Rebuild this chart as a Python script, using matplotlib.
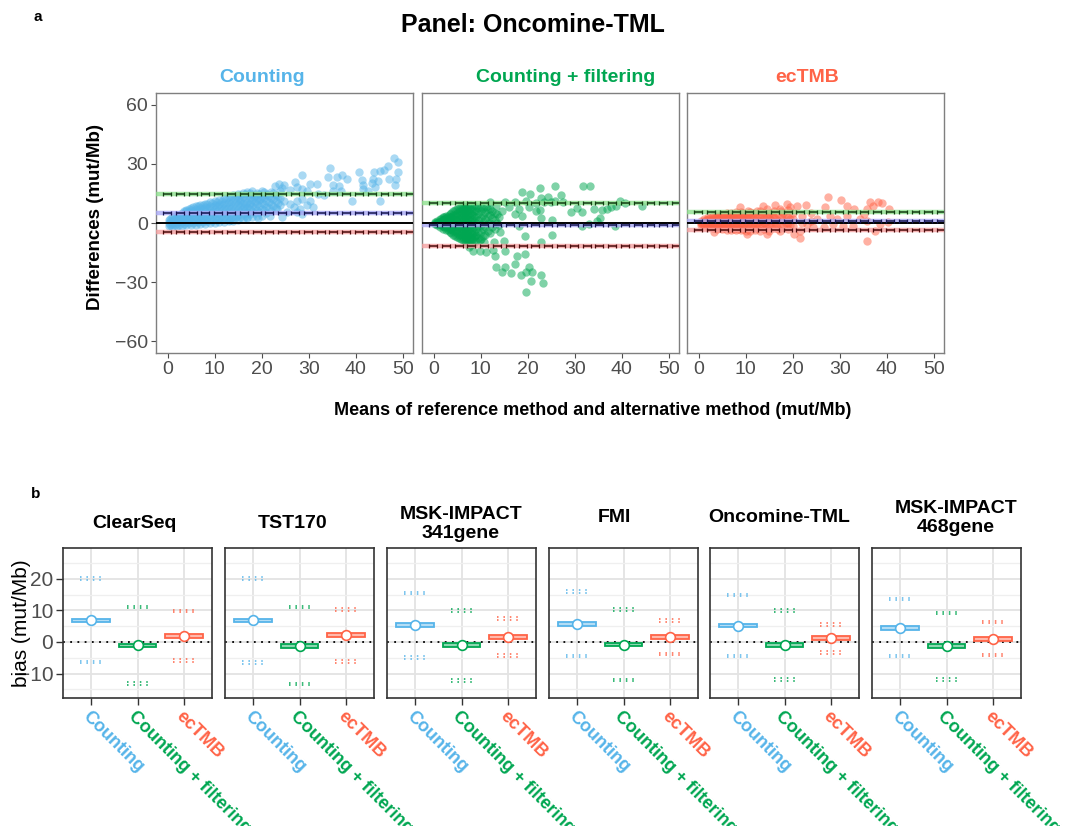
import numpy as np
import matplotlib
matplotlib.use("Agg")
import matplotlib.pyplot as plt
from matplotlib.colors import to_rgb

plt.rcParams['font.family'] = ['Liberation Sans', 'DejaVu Sans']

# ---------------- data ----------------
methods = ["Counting", "Counting + filtering", "ecTMB"]
method_colors = ["#56B4E9", "#00A651", "#FF6347"]

# panel b: bias and limits of agreement per gene panel
b_panels = ["ClearSeq", "TST170", "MSK-IMPACT\n341gene", "FMI", "Oncomine-TML", "MSK-IMPACT\n468gene"]
bias_counting = [6.8, 6.8, 5.3, 5.7, 5.2, 4.5]
upper_counting = [20.0, 20.0, 15.5, 16.0, 14.9, 13.6]
lower_counting = [-6.3, -6.5, -4.9, -4.4, -4.5, -4.5]
bias_cf = [-1.1, -1.3, -1.05, -0.8, -0.95, -1.3]
upper_cf = [11.0, 11.0, 10.0, 10.2, 10.0, 9.2]
lower_cf = [-13.2, -13.3, -12.1, -12.0, -11.9, -11.9]
bias_ec = [2.0, 2.1, 1.5, 1.5, 1.2, 1.05]
upper_ec = [9.8, 10.2, 7.4, 6.8, 5.5, 6.3]
lower_ec = [-5.9, -6.2, -4.2, -3.8, -3.4, -4.1]

# panel a (Oncomine-TML): Bland-Altman points (mean, difference)
counting_pts = [
    (48.2, 33.1), (49.1, 31.1), (46.9, 28.7), (46.0, 27.0), (45.2, 26.3), (43.9, 25.8), (49.1, 25.7),
    (40.8, 25.7), (34.6, 28.0), (28.6, 24.5), (34.2, 23.6), (37.2, 24.4), (36.1, 23.3), (38.1, 22.3),
    (41.4, 21.9), (43.6, 22.4), (44.8, 21.3), (41.6, 19.4), (43.4, 20.2), (48.6, 22.4), (48.4, 19.3),
    (47.0, 22.2), (31.7, 19.9), (35.2, 19.4), (36.5, 18.9), (23.6, 19.9), (22.9, 19.0), (24.7, 19.5),
    (24.3, 17.8), (27.1, 20.8), (27.5, 18.2), (26.1, 16.8), (28.6, 17.4), (29.6, 16.5), (35.2, 16.5),
    (36.9, 16.0), (32.1, 14.5), (33.2, 14.0), (41.6, 17.4), (42.7, 16.5), (44.1, 18.2), (39.2, 11.4),
    (45.2, 11.4), (30.3, 11.4), (29.6, 8.9), (28.6, 12.3), (27.5, 11.1), (28.2, 7.2), (27.5, 5.6),
    (28.6, 4.4), (26.8, 8.0), (21.8, 3.8), (19.3, 2.6), (24.3, 3.0), (25.4, 5.6), (23.2, 7.2),
    (26.1, 9.7), (24.7, 11.4), (21.1, 14.8), (19.7, 12.3), (17.6, 9.7), (18.3, 13.1), (15.4, 11.4),
    (16.2, 8.0), (16.9, 5.6), (14.7, 3.4), (13.3, 1.3), (31.0, 8.0), (16.9, 3.0), (30.3, 19.6),
    # dense band
    (0.3, -1.5), (0.3, 0.0), (0.3, 1.5),
    (1.0, -1.8), (1.0, -0.3), (1.0, 1.3), (1.0, 2.8),
    (2.0, -1.6), (2.0, 0.0), (2.0, 1.6), (2.0, 3.2), (2.0, 4.3),
    (3.0, -1.4), (3.0, 0.3), (3.0, 2.0), (3.0, 3.7), (3.0, 5.2),
    (4.0, -1.2), (4.0, 0.6), (4.0, 2.4), (4.0, 4.2), (4.0, 6.0), (4.0, 6.8),
    (5.0, -1.0), (5.0, 1.0), (5.0, 3.0), (5.0, 5.0), (5.0, 6.6), (5.0, 7.8),
    (6.0, -0.8), (6.0, 1.2), (6.0, 3.2), (6.0, 5.2), (6.0, 7.2), (6.0, 8.5),
    (7.0, -0.6), (7.0, 1.4), (7.0, 3.4), (7.0, 5.6), (7.0, 7.6), (7.0, 9.2),
    (8.0, -0.4), (8.0, 1.6), (8.0, 3.8), (8.0, 6.0), (8.0, 8.2), (8.0, 9.8),
    (9.0, -0.2), (9.0, 2.0), (9.0, 4.2), (9.0, 6.4), (9.0, 8.6), (9.0, 10.5),
    (10.0, 0.0), (10.0, 2.3), (10.0, 4.6), (10.0, 6.9), (10.0, 9.2), (10.0, 11.2),
    (11.0, 0.3), (11.0, 2.6), (11.0, 5.0), (11.0, 7.4), (11.0, 9.8), (11.0, 11.9),
    (12.0, 0.6), (12.0, 3.0), (12.0, 5.4), (12.0, 7.8), (12.0, 10.2), (12.0, 12.6),
    (13.0, 0.9), (13.0, 3.4), (13.0, 5.9), (13.0, 8.4), (13.0, 10.9), (13.0, 13.3),
    (14.0, 1.2), (14.0, 3.8), (14.0, 6.4), (14.0, 9.0), (14.0, 11.6), (14.0, 14.0),
    (15.0, 1.5), (15.0, 4.2), (15.0, 6.9), (15.0, 9.6), (15.0, 12.3), (15.0, 14.8),
    (16.0, 2.0), (16.0, 4.8), (16.0, 7.5), (16.0, 10.2), (16.0, 13.0), (16.0, 15.3),
    (17.0, 2.4), (17.0, 5.2), (17.0, 8.0), (17.0, 10.8), (17.0, 13.6), (17.0, 15.8),
    (18.0, 3.0), (18.0, 6.0), (18.0, 8.8), (18.0, 11.5), (18.0, 14.2), (18.0, 16.3),
    (19.0, 3.5), (19.0, 6.6), (19.0, 9.5), (19.0, 12.3), (19.0, 15.0),
    (20.0, 3.5), (20.0, 7.0), (20.0, 10.0), (20.0, 13.0), (20.0, 16.5),
    (21.0, 5.0), (21.0, 8.0), (21.0, 11.0), (21.0, 14.0),
    (22.0, 6.0), (22.0, 9.5), (22.0, 12.5), (22.0, 15.5),
    (23.0, 7.5), (23.0, 11.0), (23.0, 14.0),
    (24.0, 9.0), (24.0, 12.5), (24.0, 16.0),
    (0.6, -0.8), (0.6, 0.8), (0.6, 2.2),
    (1.5, -1.0), (1.5, 0.6), (1.5, 2.2), (1.5, 3.6),
    (2.5, -0.8), (2.5, 0.8), (2.5, 2.6), (2.5, 4.2),
    (3.5, -0.4), (3.5, 1.4), (3.5, 3.0), (3.5, 4.8), (3.5, 6.0),
    (4.5, -0.1), (4.5, 1.8), (4.5, 3.8), (4.5, 5.6), (4.5, 7.2),
    (5.5, 0.2), (5.5, 2.2), (5.5, 4.2), (5.5, 6.2), (5.5, 8.0),
    (6.5, 0.4), (6.5, 2.4), (6.5, 4.4), (6.5, 6.6), (6.5, 8.6),
    (7.5, 0.5), (7.5, 2.6), (7.5, 4.8), (7.5, 7.0), (7.5, 9.0),
    (8.5, 0.8), (8.5, 3.0), (8.5, 5.2), (8.5, 7.4), (8.5, 9.6),
    (9.5, 1.0), (9.5, 3.4), (9.5, 5.8), (9.5, 8.0), (9.5, 10.4),
    (10.5, 1.4), (10.5, 3.6), (10.5, 6.0), (10.5, 8.4), (10.5, 10.8),
    (11.5, 1.8), (11.5, 4.2), (11.5, 6.6), (11.5, 9.0), (11.5, 11.4),
    (12.5, 2.0), (12.5, 4.6), (12.5, 7.0), (12.5, 9.6), (12.5, 12.0),
    (13.5, 2.4), (13.5, 5.0), (13.5, 7.6), (13.5, 10.2), (13.5, 12.8),
    (14.5, 2.8), (14.5, 5.4), (14.5, 8.2), (14.5, 10.8), (14.5, 13.4),
    (15.5, 3.2), (15.5, 6.0), (15.5, 8.8), (15.5, 11.6), (15.5, 14.2),
    (16.5, 3.8), (16.5, 6.6), (16.5, 9.4), (16.5, 12.2), (16.5, 14.8),
    (17.5, 4.4), (17.5, 7.2), (17.5, 10.0), (17.5, 12.8), (17.5, 15.2),
    (18.5, 5.0), (18.5, 8.0), (18.5, 10.8), (18.5, 13.6),
    (19.5, 5.5), (19.5, 8.6), (19.5, 11.6), (19.5, 14.5),
    (20.5, 6.5), (20.5, 9.5), (20.5, 12.5), (20.5, 15.5),
    (21.5, 7.5), (21.5, 10.5), (21.5, 13.5),
    (22.5, 8.5), (22.5, 12.0), (22.5, 15.0),
    (23.5, 10.0), (23.5, 13.5),
]

cf_pts = [
    (25.8, 18.8), (31.7, 18.8), (33.2, 18.8), (22.7, 18.0), (18.8, 15.6), (20.6, 14.7), (27.1, 14.2),
    (24.4, 13.0), (22.9, 12.5), (25.9, 11.4), (15.2, 10.8), (17.4, 10.5), (19.6, 11.4), (21.7, 10.2),
    (23.5, 10.5), (24.9, 10.8), (27.6, 10.5), (29.3, 5.4), (30.6, 7.6), (31.6, 5.8), (34.1, 7.1),
    (35.8, 6.6), (36.9, 7.1), (37.8, 8.0), (38.7, 8.8), (39.7, 11.4), (40.7, 10.0), (44.3, 8.8),
    (35.4, 2.5), (34.8, 1.2), (31.6, -1.7), (33.0, -0.5), (38.5, -1.7), (22.7, 6.8), (22.9, 2.5),
    (25.1, 1.7), (21.7, 6.3), (20.3, 8.0), (18.1, 7.1), (18.8, 3.7), (17.4, 4.6), (16.0, 8.0),
    (14.6, 6.3), (13.2, 8.8), (12.1, 10.5), (11.1, 8.0),
    (19.6, -35.2), (23.2, -30.7), (20.8, -29.3), (22.8, -26.4), (20.9, -25.1), (20.3, -22.5),
    (19.6, -25.1), (18.5, -26.3), (16.4, -25.6), (14.5, -24.7), (15.3, -22.5), (13.2, -22.5),
    (17.4, -20.9), (17.8, -16.6), (19.4, -15.8), (15.3, -14.4), (13.0, -17.0), (12.6, -13.6),
    (11.1, -14.9), (9.9, -14.1), (10.7, -9.8), (9.8, -8.7), (8.9, -6.4), (7.9, -7.3), (8.4, -14.1),
    (7.5, -12.4), (12.8, -9.8), (14.9, -9.0), (19.4, -6.4), (22.8, -9.5), (25.2, -6.0), (14.2, -4.4),
    (18.1, -1.7),
    # dense wedge
    (0.3, -0.4), (0.3, 0.0), (0.3, 0.4),
    (0.8, -1.0), (0.8, 0.0), (0.8, 1.0),
    (1.3, -1.8), (1.3, -0.6), (1.3, 0.6), (1.3, 1.8),
    (2.0, -2.8), (2.0, -1.4), (2.0, 0.0), (2.0, 1.4), (2.0, 2.8),
    (2.7, -3.8), (2.7, -2.0), (2.7, -0.5), (2.7, 1.0), (2.7, 2.5), (2.7, 3.8),
    (3.4, -4.8), (3.4, -3.0), (3.4, -1.0), (3.4, 1.0), (3.4, 3.0), (3.4, 4.8),
    (4.2, -6.0), (4.2, -4.0), (4.2, -2.0), (4.2, 0.0), (4.2, 2.0), (4.2, 4.0), (4.2, 6.0),
    (5.0, -7.0), (5.0, -5.0), (5.0, -3.0), (5.0, -1.0), (5.0, 1.0), (5.0, 3.0), (5.0, 5.0), (5.0, 7.0),
    (5.8, -8.0), (5.8, -6.0), (5.8, -4.0), (5.8, -2.0), (5.8, 0.0), (5.8, 2.0), (5.8, 4.0), (5.8, 6.0),
    (5.8, 8.0),
    (6.6, -9.0), (6.6, -7.0), (6.6, -5.0), (6.6, -3.0), (6.6, -1.0), (6.6, 1.0), (6.6, 3.0), (6.6, 5.0),
    (6.6, 7.0), (6.6, 8.5),
    (7.4, -10.0), (7.4, -8.0), (7.4, -6.0), (7.4, -4.0), (7.4, -2.0), (7.4, 0.0), (7.4, 2.0), (7.4, 4.0),
    (7.4, 6.0), (7.4, 8.0),
    (8.2, -10.5), (8.2, -8.0), (8.2, -5.5), (8.2, -3.0), (8.2, -0.5), (8.2, 2.0), (8.2, 4.5), (8.2, 7.0),
    (9.0, -9.0), (9.0, -6.0), (9.0, -3.0), (9.0, 0.0), (9.0, 3.0), (9.0, 6.0), (9.0, 8.5),
    (10.0, -8.0), (10.0, -4.5), (10.0, -1.0), (10.0, 2.5), (10.0, 6.0), (10.0, 8.0),
    (11.0, -6.0), (11.0, -2.0), (11.0, 2.0), (11.0, 5.5),
    (12.0, -5.0), (12.0, 0.0), (12.0, 4.0), (12.0, 7.0),
    (13.0, -3.0), (13.0, 1.5), (13.0, 5.0),
    (14.0, -1.0), (14.0, 3.0),
    (1.0, -0.5), (1.0, 0.5),
    (1.6, -1.2), (1.6, 0.0), (1.6, 1.2), (1.6, 2.2),
    (2.3, -2.2), (2.3, -0.7), (2.3, 0.7), (2.3, 2.2), (2.3, 3.2),
    (3.0, -3.4), (3.0, -1.5), (3.0, 0.0), (3.0, 1.5), (3.0, 3.4),
    (3.8, -5.2), (3.8, -3.0), (3.8, -1.0), (3.8, 1.0), (3.8, 3.0), (3.8, 5.2),
    (4.6, -6.4), (4.6, -4.0), (4.6, -2.0), (4.6, 0.0), (4.6, 2.0), (4.6, 4.0), (4.6, 6.4),
    (5.4, -7.5), (5.4, -6.0), (5.4, -4.0), (5.4, -2.0), (5.4, 0.0), (5.4, 2.0), (5.4, 4.0), (5.4, 6.0),
    (5.4, 7.5),
    (6.2, -8.5), (6.2, -7.0), (6.2, -5.0), (6.2, -3.0), (6.2, -1.0), (6.2, 1.0), (6.2, 3.0), (6.2, 5.0),
    (6.2, 7.0), (6.2, 8.5),
    (7.0, -9.5), (7.0, -8.0), (7.0, -6.0), (7.0, -4.0), (7.0, -2.0), (7.0, 0.0), (7.0, 2.0), (7.0, 4.0),
    (7.0, 6.0), (7.0, 8.0),
    (7.8, -11.0), (7.8, -9.0), (7.8, -7.0), (7.8, -5.0), (7.8, -3.0), (7.8, -1.0), (7.8, 1.0), (7.8, 3.0),
    (7.8, 5.0), (7.8, 7.0), (7.8, 9.0),
    (8.6, -10.0), (8.6, -7.0), (8.6, -4.5), (8.6, -2.0), (8.6, 1.0), (8.6, 3.5), (8.6, 6.0), (8.6, 8.5),
    (9.5, -7.5), (9.5, -4.5), (9.5, -1.5), (9.5, 1.5), (9.5, 4.5), (9.5, 7.5),
    (10.5, -6.5), (10.5, -3.0), (10.5, 0.5), (10.5, 4.0), (10.5, 7.5),
    (11.5, -4.0), (11.5, 0.0), (11.5, 3.5), (11.5, 7.0),
    (12.5, -2.0), (12.5, 2.5), (12.5, 6.0),
    (13.5, 0.0), (13.5, 4.5),
]

ectmb_pts = [
    (27.5, 13.4), (30.3, 11.8), (8.9, 8.3), (16.2, 9.1), (18.8, 9.7), (20.9, 8.8), (22.8, 9.1),
    (17.4, 7.1), (19.5, 7.9), (14.5, 7.1), (12.4, 5.9), (26.9, 7.9), (31.5, 8.5), (33.0, 7.1),
    (36.5, 10.5), (37.1, 8.8), (38.1, 10.5), (39.0, 10.0), (40.4, 7.1), (35.8, 7.1), (35.1, 4.6),
    (34.4, 2.0), (32.9, -1.4), (30.8, -1.4), (29.4, 2.0), (28.0, 3.7), (26.6, -2.2), (25.2, 2.0),
    (24.4, -2.2), (23.0, -0.5), (21.6, -3.9), (20.2, -5.6), (21.5, -7.8), (17.4, -3.9), (14.5, -5.6),
    (10.3, -5.6), (3.2, -4.7), (35.8, -9.0), (35.8, 1.2), (38.6, -0.5), (37.5, -3.9), (40.2, 0.3),
    (31.5, 3.7), (28.7, -0.5), (15.9, 3.7), (13.8, 8.8), (10.6, 6.3),
    # dense band
    (0.5, -0.8), (0.5, 0.0), (0.5, 0.8),
    (1.2, -1.5), (1.2, -0.3), (1.2, 1.0), (1.2, 2.0),
    (2.0, -2.0), (2.0, -0.7), (2.0, 0.6), (2.0, 2.0), (2.0, 3.0),
    (3.0, -2.5), (3.0, -1.0), (3.0, 0.5), (3.0, 2.0), (3.0, 3.5),
    (4.0, -3.0), (4.0, -1.5), (4.0, 0.0), (4.0, 1.5), (4.0, 3.0), (4.0, 4.0),
    (5.0, -3.2), (5.0, -1.6), (5.0, 0.0), (5.0, 1.6), (5.0, 3.2), (5.0, 4.5),
    (6.0, -3.5), (6.0, -1.8), (6.0, 0.0), (6.0, 1.8), (6.0, 3.5), (6.0, 5.0),
    (7.0, -3.5), (7.0, -1.8), (7.0, 0.0), (7.0, 1.8), (7.0, 3.5), (7.0, 5.0),
    (8.0, -3.8), (8.0, -1.8), (8.0, 0.2), (8.0, 2.0), (8.0, 4.0), (8.0, 5.5),
    (9.0, -3.8), (9.0, -1.8), (9.0, 0.2), (9.0, 2.2), (9.0, 4.0), (9.0, 5.5),
    (10.0, -4.0), (10.0, -2.0), (10.0, 0.3), (10.0, 2.5), (10.0, 4.5),
    (11.0, -4.0), (11.0, -1.5), (11.0, 1.0), (11.0, 3.5), (11.0, 5.5),
    (12.0, -3.5), (12.0, -1.0), (12.0, 1.5), (12.0, 4.0),
    (13.0, -4.0), (13.0, -1.5), (13.0, 1.0), (13.0, 3.5), (13.0, 6.0),
    (14.0, -3.0), (14.0, 0.0), (14.0, 2.5), (14.0, 5.0),
    (15.0, -4.0), (15.0, -1.0), (15.0, 2.0), (15.0, 4.5),
    (16.0, -2.5), (16.0, 0.5), (16.0, 3.0), (16.0, 6.0),
    (17.0, -3.0), (17.0, 1.0), (17.0, 4.5),
    (18.0, -2.0), (18.0, 1.5), (18.0, 5.0),
    (19.0, -3.0), (19.0, 0.0), (19.0, 3.0), (19.0, 6.5),
    (20.0, -1.5), (20.0, 2.0), (20.0, 5.0),
    (22.0, 0.0), (22.0, 3.5),
    (24.0, 1.0), (24.0, 5.0),
    (0.8, -0.4), (0.8, 0.4),
    (1.6, -1.0), (1.6, 0.3), (1.6, 1.5),
    (2.5, -1.5), (2.5, 0.0), (2.5, 1.3), (2.5, 2.6),
    (3.5, -1.8), (3.5, -0.3), (3.5, 1.2), (3.5, 2.7), (3.5, 3.8),
    (4.5, -2.4), (4.5, -0.8), (4.5, 0.8), (4.5, 2.4), (4.5, 3.8),
    (5.5, -2.5), (5.5, -0.8), (5.5, 0.8), (5.5, 2.5), (5.5, 4.0),
    (6.5, -2.7), (6.5, -0.9), (6.5, 0.9), (6.5, 2.7), (6.5, 4.2),
    (7.5, -2.8), (7.5, -0.8), (7.5, 1.0), (7.5, 2.8), (7.5, 4.6),
    (8.5, -2.8), (8.5, -0.8), (8.5, 1.2), (8.5, 3.0), (8.5, 4.8),
    (9.5, -3.0), (9.5, -0.8), (9.5, 1.3), (9.5, 3.3), (9.5, 5.0),
    (10.5, -3.0), (10.5, -0.5), (10.5, 1.8), (10.5, 4.0),
    (11.5, -2.5), (11.5, 0.0), (11.5, 2.5), (11.5, 5.0),
    (12.5, -2.5), (12.5, 0.2), (12.5, 2.8),
    (13.5, -2.2), (13.5, 1.0), (13.5, 4.2),
    (14.5, -2.0), (14.5, 1.2), (14.5, 3.8),
    (15.5, -1.5), (15.5, 1.5), (15.5, 5.0),
    (16.5, -1.0), (16.5, 2.0),
    (17.5, -1.0), (17.5, 3.0), (17.5, 6.0),
    (18.5, 0.0), (18.5, 3.5),
    (19.5, -1.0), (19.5, 2.0),
]

a_ticks = [0, 10, 20, 30, 40, 50]
a_yticks = [-60, -30, 0, 30, 60]
b_yticks = [-10, 0, 10, 20]

# ---------------- figure ----------------
W, H = 1073, 826
fig = plt.figure(figsize=(W / 100, H / 100), dpi=100)


def ax_px(left, top, right, bottom):
    return fig.add_axes([left / W, 1 - bottom / H, (right - left) / W, (bottom - top) / H])


def text_px(x, y, s, **kw):
    fig.text(x / W, 1 - y / H, s, **kw)


def lighten(c, f):
    r, g, b = to_rgb(c)
    return (r + (1 - r) * f, g + (1 - g) * f, b + (1 - b) * f)


GREY = "#4D4D4D"

# ---------------- panel a ----------------
text_px(38, 17, "a", fontsize=11, fontweight="bold", ha="center", va="center")
text_px(533, 25, "Panel: Oncomine-TML", fontsize=18, fontweight="bold", ha="center", va="center")

a_lefts = [156, 422, 687]
a_width = 257
title_x = [262, 566, 807]
point_sets = [counting_pts, cf_pts, ectmb_pts]
b_idx = b_panels.index("Oncomine-TML")
lines_a = [
    (upper_counting[b_idx], bias_counting[b_idx], lower_counting[b_idx]),
    (upper_cf[b_idx], bias_cf[b_idx], lower_cf[b_idx]),
    (upper_ec[b_idx], bias_ec[b_idx], lower_ec[b_idx]),
]
XL = (-2.45, 52.2)


def loa_line(ax, y, light, dark):
    ax.axhline(y, color=light, lw=3.2, alpha=0.8, zorder=3)
    starts = np.arange(XL[0] + 1.5, XL[1], 2.72)
    xs, ys, mx = [], [], []
    for s in starts:
        xs += [s, s + 1.7, np.nan]
        ys += [y, y, np.nan]
        mx += [s, s + 1.7]
    ax.plot(xs, ys, color=dark, lw=1.1, zorder=4, solid_capstyle="butt")
    ax.plot(mx, [y] * len(mx), ls="none", marker="|", ms=3.5, mew=0.9, color=dark, zorder=4)


for i in range(3):
    ax = ax_px(a_lefts[i], 93, a_lefts[i] + a_width, 353)
    pts = np.array(point_sets[i])
    ax.scatter(pts[:, 0], pts[:, 1], s=36, color=method_colors[i], alpha=0.5, linewidths=0, zorder=2)
    up, mean, lo = lines_a[i]
    ax.axhline(0, color="black", lw=1.4, zorder=3.5)
    loa_line(ax, up, "#8EE08E", "#123D12")
    loa_line(ax, mean, "#A9A9F5", "#141450")
    loa_line(ax, lo, "#F4A0A0", "#4A0A0A")
    ax.set_xlim(*XL)
    ax.set_ylim(-66, 66)
    ax.set_xticks(a_ticks)
    ax.set_yticks(a_yticks)
    for sp in ax.spines.values():
        sp.set_color("#7F7F7F")
        sp.set_linewidth(1.0)
    ax.tick_params(axis="both", length=3.5, width=0.8, color=GREY, labelcolor=GREY, labelsize=14, pad=2.5)
    if i > 0:
        ax.tick_params(axis="y", left=False, labelleft=False)
    text_px(title_x[i], 77, methods[i], color=method_colors[i], fontsize=14, fontweight="bold",
            ha="center", va="center")

text_px(96, 217, "Differences (mut/Mb)", fontsize=13.5, fontweight="bold", rotation=90, ha="center", va="center")
text_px(593, 410, "Means of reference method and alternative method (mut/Mb)", fontsize=13, fontweight="bold",
        ha="center", va="center")

# ---------------- panel b ----------------
text_px(36, 494, "b", fontsize=11, fontweight="bold", ha="center", va="center")
b_lefts = [63, 225, 387, 549, 710, 872]
b_width = 149
b_title_x = [134, 293, 461, 614, 779, 956]
b_title_y = [523, 523, 524, 518, 518, 518]

bias_sets = [bias_counting, bias_cf, bias_ec]
upper_sets = [upper_counting, upper_cf, upper_ec]
lower_sets = [lower_counting, lower_cf, lower_ec]

for p in range(6):
    ax = ax_px(b_lefts[p], 548, b_lefts[p] + b_width, 698)
    ax.set_xlim(0.4, 3.6)
    ax.set_ylim(-17.7, 29.7)
    ax.set_yticks(b_yticks)
    ax.set_yticks([-15, -5, 5, 15, 25], minor=True)
    ax.set_xticks([1, 2, 3])
    ax.grid(True, which="major", color="#E3E3E3", lw=1.3, zorder=0)
    ax.grid(True, which="minor", axis="y", color="#EFEFEF", lw=0.9, zorder=0)
    ax.set_axisbelow(True)
    ax.axhline(0, color="black", lw=1.3, ls=(0, (1, 3)), zorder=1)
    for m in range(3):
        x = m + 1
        c = method_colors[m]
        b = bias_sets[m][p]
        ax.add_patch(plt.Rectangle((x - 0.4, b - 0.6), 0.8, 1.2, facecolor=lighten(c, 0.55),
                                   edgecolor=c, lw=1.3, zorder=3))
        ax.plot([x], [b], marker="o", ms=7, mfc="white", mec=c, mew=1.2, zorder=4)
        for yv in (upper_sets[m][p], lower_sets[m][p]):
            for dy in (-0.4, 0.4):
                ax.plot([x - 0.23, x + 0.23], [yv + dy, yv + dy], color=c, lw=1.1,
                        ls=(0, (1, 3.2)), zorder=3)
    for sp in ax.spines.values():
        sp.set_color("#333333")
        sp.set_linewidth(1.2)
    ax.tick_params(axis="both", which="major", length=5, width=1.0, color="#333333",
                   labelcolor=GREY, labelsize=15, pad=2)
    ax.tick_params(axis="y", which="minor", left=False)
    ax.set_xticklabels(methods, rotation=-45, ha="left", va="top", rotation_mode="anchor",
                       fontsize=13, fontweight="bold")
    for lbl, c in zip(ax.get_xticklabels(), method_colors):
        lbl.set_color(c)
    if p > 0:
        ax.tick_params(axis="y", left=False, labelleft=False)
    text_px(b_title_x[p], b_title_y[p], b_panels[p], fontsize=14, fontweight="bold", ha="center",
            va="center", linespacing=1.15)

text_px(22, 623, "bias (mut/Mb)", fontsize=15, rotation=90, ha="center", va="center")

fig.savefig("out.png", dpi=100, facecolor="white")
